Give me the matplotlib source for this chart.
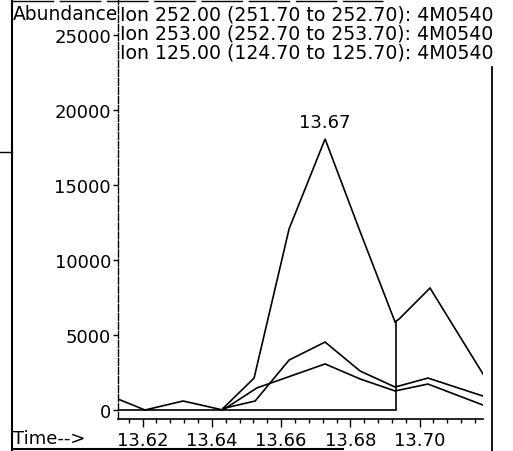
import matplotlib
matplotlib.use('Agg')
import matplotlib.pyplot as plt
from matplotlib.lines import Line2D
from matplotlib.ticker import MultipleLocator

plt.rcParams['font.family'] = ['DejaVu Sans']

# ── data ─────────────────────────────────────────────────────────────────
ion_labels = [
    'Ion 252.00 (251.70 to 252.70): 4M0540',
    'Ion 253.00 (252.70 to 253.70): 4M0540',
    'Ion 125.00 (124.70 to 125.70): 4M0540',
]

# big trace
t_big = [13.6432, 13.6522, 13.6623, 13.6727, 13.6828, 13.6929, 13.6941, 13.7030, 13.7183]
y_big = [100, 2130, 12070, 18070, 11900, 5870, 6070, 8130, 2400]

# middle trace
t_mid = [13.6432, 13.6525, 13.6623, 13.6727, 13.6828, 13.6929, 13.7024, 13.7183]
y_mid = [100, 600, 3330, 4530, 2600, 1530, 2130, 930]

# lower trace
t_low = [13.6129, 13.6207, 13.6317, 13.6432, 13.6530, 13.6727, 13.6828, 13.6929, 13.7024, 13.7183]
y_low = [730, 0, 600, 0, 1470, 3070, 2070, 1270, 1730, 330]

# flat baseline with the jump back up
t_base = [13.6129, 13.6932, 13.6932]
y_base = [0, 0, 5870]

peak_time = 13.6727
peak_val = 18070
peak_label = '13.67'

y_ticks = [0, 5000, 10000, 15000, 20000, 25000]
x_ticks = [13.62, 13.64, 13.66, 13.68, 13.70]

# ── figure ───────────────────────────────────────────────────────────────
W, H = 513, 452
fig = plt.figure(figsize=(W / 100, H / 100), dpi=100)
ax = fig.add_axes([118 / W, (H - 420) / H, (483 - 118) / W, 420 / H])

lw = 1.2
for t, y in [(t_base, y_base), (t_big, y_big), (t_mid, y_mid), (t_low, y_low)]:
    ax.plot(t, y, color='black', linewidth=lw, solid_joinstyle='miter')

ax.annotate(peak_label, xy=(peak_time, peak_val), xytext=(0, 6),
            textcoords='offset points', ha='center', va='bottom', fontsize=13)

ax.set_xlim(13.6129, 13.7183)
ax.set_ylim(-600, 27400)

ax.set_xticks(x_ticks)
ax.set_xticklabels([f'{v:.2f}' for v in x_ticks])
ax.xaxis.set_minor_locator(MultipleLocator(0.004))
ax.set_yticks(y_ticks)
ax.tick_params(axis='x', which='major', length=6, width=1, pad=2.5, labelsize=13)
ax.tick_params(axis='x', which='minor', length=3, width=1)
ax.tick_params(axis='y', length=3.5, width=1, pad=1.5, labelsize=13)

for s in ['top', 'right']:
    ax.spines[s].set_visible(False)
ax.spines['left'].set_linestyle((0, (5, 1.5)))
ax.spines['left'].set_linewidth(1)
ax.spines['bottom'].set_linewidth(1.2)

# ── header / frame text ──────────────────────────────────────────────────
fig.text(13 / W, 1 - 15 / H, 'Abundance', fontsize=13.4, va='center', ha='left')
for i, lab in enumerate(ion_labels):
    fig.text(120 / W, 1 - (15 + 19 * i) / H, lab, fontsize=13.6, va='center', ha='left')
fig.text(13 / W, 1 - 439 / H, 'Time-->', fontsize=13, va='center', ha='left')


def fline(xs, ys, **kw):
    fig.add_artist(Line2D([x / W for x in xs], [1 - y / H for y in ys],
                          transform=fig.transFigure, color='black', **kw))


fline([12, 12], [0, 452], linewidth=1.5)
fline([492, 492], [68, 452], linewidth=1.3)
fline([12, 343], [450, 450], linewidth=1.5)
fline([12, 383], [1.5, 1.5], linewidth=1, linestyle=(0, (30, 4)))
fline([0, 12], [153, 153], linewidth=1)

fig.savefig('out.png', dpi=100)
